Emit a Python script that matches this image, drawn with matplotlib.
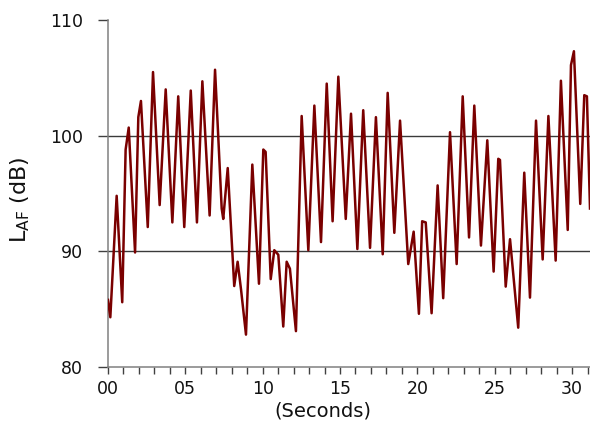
import matplotlib
matplotlib.use("Agg")
import matplotlib.pyplot as plt
from matplotlib.ticker import MultipleLocator, FixedLocator

# Time (s) and A-weighted fast level (dB), read at peaks, troughs and shoulders
time_s = [0.00, 0.15, 0.56, 0.92, 1.14, 1.34, 1.75, 1.96, 2.13, 2.57,
          2.91, 3.34, 3.73, 4.16, 4.54, 4.93, 5.35, 5.75, 6.10, 6.57,
          6.92, 7.35, 7.45, 7.74, 8.16, 8.38, 8.60, 8.92, 9.33, 9.76,
          10.04, 10.19, 10.52, 10.75, 11.01, 11.33, 11.55, 11.76, 12.15, 12.52,
          12.95, 13.34, 13.77, 14.14, 14.52, 14.89, 15.37, 15.71, 16.12, 16.50,
          16.94, 17.32, 17.76, 18.08, 18.51, 18.88, 19.41, 19.76, 20.10, 20.31,
          20.54, 20.92, 21.31, 21.67, 22.11, 22.54, 22.93, 23.34, 23.68, 24.11,
          24.52, 24.93, 25.23, 25.34, 25.71, 25.99, 26.52, 26.91, 27.28, 27.67,
          28.10, 28.47, 28.94, 29.28, 29.72, 29.93, 30.12, 30.53, 30.79, 30.96,
          31.16]
level_db = [85.8, 84.3, 94.8, 85.6, 98.8, 100.7, 89.9, 101.6, 103.0, 92.1,
            105.5, 94.0, 104.0, 92.5, 103.4, 92.1, 103.9, 92.5, 104.7, 93.1,
            105.7, 93.7, 92.8, 97.2, 87.0, 89.1, 86.7, 82.8, 97.5, 87.2,
            98.8, 98.6, 87.6, 90.1, 89.7, 83.5, 89.1, 88.5, 83.1, 101.7,
            90.1, 102.6, 90.8, 104.5, 92.6, 105.1, 92.8, 101.9, 90.2, 102.2,
            90.3, 101.6, 89.75, 103.7, 91.6, 101.3, 88.9, 91.7, 84.6, 92.6,
            92.5, 84.65, 95.7, 85.95, 100.3, 88.9, 103.4, 91.2, 102.6, 90.5,
            99.6, 88.25, 98.0, 97.9, 86.95, 91.05, 83.4, 96.8, 86.0, 101.3,
            89.3, 101.7, 89.2, 104.75, 91.85, 106.1, 107.3, 94.1, 103.5, 103.4,
            93.7]

x_tick_values = [0, 5, 10, 15, 20, 25, 30]
x_tick_labels = ["00", "05", "10", "15", "20", "25", "30"]
y_tick_values = [80, 90, 100, 110]
grid_values = [90, 100]

plt.rcParams['font.family'] = ['DejaVu Sans']

W, H = 590, 423
fig = plt.figure(figsize=(W / 100, H / 100), dpi=100)
ax = fig.add_axes([108 / W, (H - 367) / H, (W - 108) / W, (367 - 20) / H])

for g in grid_values:
    ax.axhline(g, color="#3a3a3a", lw=1.0, zorder=1)

ax.plot(time_s, level_db, color="#7a0000", lw=1.8, zorder=3,
        solid_joinstyle="round")

ax.set_xlim(0, 31.16)
ax.set_ylim(80, 110)

ax.xaxis.set_major_locator(FixedLocator(x_tick_values))
ax.set_xticklabels(x_tick_labels)
ax.xaxis.set_minor_locator(MultipleLocator(1))
ax.yaxis.set_major_locator(FixedLocator(y_tick_values))

for s in ("top", "right"):
    ax.spines[s].set_visible(False)
for s in ("left", "bottom"):
    ax.spines[s].set_color("#808080")
    ax.spines[s].set_linewidth(1.1)

ax.tick_params(axis="x", which="both", direction="out", length=5, width=1.0,
               color="#404040", labelsize=12.5, pad=4, labelcolor="#111111")
ax.tick_params(axis="y", which="major", direction="out", length=7, width=1.0,
               color="#404040", labelsize=12.5, pad=11, labelcolor="#111111")

fig.text(323 / W, 1 - 411 / H, "(Seconds)", ha="center", va="center",
         fontsize=14, color="#111111")
fig.text(20 / W, 1 - 200 / H, r"L$_{\mathregular{AF}}$ (dB)", ha="center",
         va="center", rotation=90, fontsize=16, color="#111111")

fig.savefig("out.png", dpi=100)
